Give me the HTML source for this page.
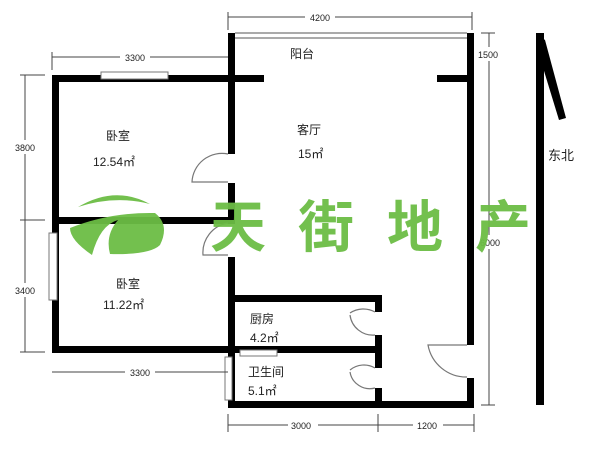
<!DOCTYPE html>
<html><head><meta charset="utf-8"><style>body{margin:0;background:#fff}svg{display:block}text{font-family:"Liberation Sans","Noto Sans CJK SC",sans-serif;fill:#222}</style></head><body>
<svg width="600" height="450" viewBox="0 0 600 450" xmlns="http://www.w3.org/2000/svg">
<g fill="#000">
<rect x="52" y="75" width="7" height="278"/>
<rect x="52" y="75" width="212" height="7"/>
<rect x="228" y="33" width="7" height="121"/>
<rect x="228" y="183" width="7" height="40"/>
<rect x="52" y="217" width="183" height="7"/>
<rect x="228" y="257" width="7" height="150"/>
<rect x="467" y="33" width="7" height="312"/>
<rect x="467" y="378" width="7" height="30"/>
<rect x="437" y="75" width="35" height="7"/>
<rect x="228" y="295" width="154" height="7"/>
<rect x="375" y="295" width="7" height="17"/>
<rect x="375" y="335" width="7" height="33"/>
<rect x="375" y="388" width="7" height="18"/>
<rect x="52" y="346" width="330" height="7"/>
<rect x="228" y="401" width="246" height="7"/>
</g>
<g fill="#fff" stroke="#777" stroke-width="1">
<rect x="101" y="72" width="67" height="7"/>
<rect x="49" y="233" width="8" height="67"/>
<rect x="240" y="350" width="37" height="6"/>
<rect x="225" y="357" width="7" height="43"/>
</g>
<g fill="none" stroke="#777" stroke-width="1.2">
<line x1="235" y1="33" x2="467" y2="33"/><line x1="235" y1="38" x2="467" y2="38"/>
<path d="M228 154 A30 30 0 0 0 192 182 L228 182"/>
<path d="M228 223 A30 30 0 0 0 203 255 L228 255"/>
<path d="M375 312 A24 24 0 0 0 350 313 M375 335 A23 23 0 0 1 350 315"/>
<path d="M375 368 A22 22 0 0 0 350 370 M375 388 A20 20 0 0 1 350 372"/>
<path d="M467 345 L428 345 A39 39 0 0 0 467 377"/>
</g>
<g stroke="#444" stroke-width="1" fill="none">
<line x1="228" y1="17" x2="472" y2="17"/><line x1="228" y1="12" x2="228" y2="30"/><line x1="472" y1="12" x2="472" y2="30"/>
<line x1="52" y1="57" x2="228" y2="57"/><line x1="52" y1="52" x2="52" y2="70"/>
<line x1="25" y1="75" x2="25" y2="352"/><line x1="20" y1="75" x2="45" y2="75"/><line x1="20" y1="220" x2="45" y2="220"/><line x1="20" y1="352" x2="45" y2="352"/>
<line x1="52" y1="372" x2="228" y2="372"/>
<line x1="228" y1="425" x2="474" y2="425"/><line x1="228" y1="414" x2="228" y2="432"/><line x1="378" y1="414" x2="378" y2="432"/><line x1="474" y1="414" x2="474" y2="432"/>
<line x1="489" y1="33" x2="489" y2="405"/><line x1="481" y1="33" x2="495" y2="33"/><line x1="481" y1="405" x2="495" y2="405"/>
</g>
<g fill="#fff"><rect x="120" y="50" width="30" height="14"/><rect x="12" y="140" width="26" height="14"/><rect x="12" y="283" width="26" height="14"/><rect x="125" y="365" width="30" height="14"/><rect x="288" y="418" width="30" height="14"/><rect x="413" y="418" width="30" height="14"/><rect x="478" y="47" width="22" height="14"/><rect x="478" y="235" width="22" height="14"/><rect x="305" y="10" width="30" height="14"/></g>
<g font-size="9" text-anchor="middle">
<text x="320" y="21">4200</text><text x="135" y="61">3300</text><text x="25" y="151">3800</text><text x="25" y="294">3400</text><text x="140" y="376">3300</text><text x="301" y="429">3000</text><text x="427" y="429">1200</text><text x="488" y="58">1500</text><text x="490" y="246">6000</text>
</g>
<polygon points="536,33 544,33 544,405 536,405" fill="#000"/>
<polygon points="536,33 545,40 566,118 559,120 537,48" fill="#000"/>
<g font-size="12">
<text x="290" y="58">阳台</text><text x="106" y="140">卧室</text><text x="93" y="166">12.54㎡</text>
<text x="297" y="134">客厅</text><text x="298" y="158">15㎡</text>
<text x="116" y="288">卧室</text><text x="103" y="309">11.22㎡</text>
<text x="250" y="323">厨房</text><text x="250" y="342">4.2㎡</text>
<text x="248" y="376">卫生间</text><text x="248" y="395">5.1㎡</text>
<text x="548" y="160" font-size="13">东北</text>
</g>
<g fill="#6cbd45" opacity="0.95">
<path d="M78 207 Q115 185 150 204 Q115 195 78 207Z"/>
<path d="M70 228 Q110 212 155 213 Q170 225 160 245 Q150 255 110 254 Q105 235 118 220 Q100 225 92 255 Q70 240 70 228Z"/>
</g>
<g font-size="56" font-weight="bold" text-anchor="middle" style="fill:#6cbd45;fill-opacity:0.95">
<text x="238" y="247" style="fill:#6cbd45">天</text><text x="326" y="247" style="fill:#6cbd45">街</text><text x="415" y="247" style="fill:#6cbd45">地</text><text x="503" y="247" style="fill:#6cbd45">产</text>
</g>
</svg>
</body></html>
